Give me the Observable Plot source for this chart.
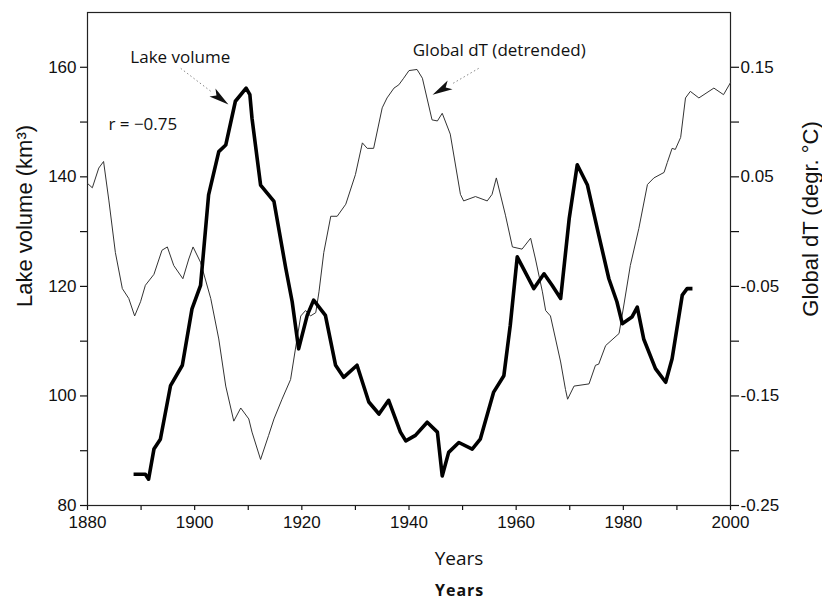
<!DOCTYPE html>
<html>
<head>
<meta charset="utf-8">
<script src="https://cdn.jsdelivr.net/npm/d3@7"></script>
<script src="https://cdn.jsdelivr.net/npm/@observablehq/plot@0.6"></script>
<style>
  body { margin: 0; background: #fff; }
  #caption { font-family: "Open Sans", sans-serif; font-weight: bold; font-size: 16px; letter-spacing: 1px; line-height: 20px; padding-left: 435px; color: #111; }
</style>
</head>
<body>
<div id="chart"></div>
<div id="caption">Years</div>
<script>
// Lake volume (km³) by year
const lakeVolume = [
  [1888.6, 85.7], [1890.8, 85.7], [1891.4, 84.8], [1892.4, 90.3], [1893.6, 92.1],
  [1895.5, 101.9], [1897.7, 105.6], [1899.5, 115.9], [1901.1, 120.2], [1902.6, 136.7],
  [1904.5, 144.6], [1905.8, 145.8], [1907.6, 153.8], [1909.6, 156.2], [1910.3, 155.0],
  [1910.7, 150.7], [1912.3, 138.5], [1914.8, 135.5], [1917.0, 123.3], [1918.2, 117.2],
  [1919.4, 108.6], [1921.0, 114.7], [1922.2, 117.5], [1924.4, 114.7], [1926.3, 105.6],
  [1927.8, 103.4], [1930.3, 105.6], [1932.5, 98.9], [1934.4, 96.7], [1936.2, 99.2],
  [1938.4, 93.4], [1939.4, 91.8], [1941.2, 92.8], [1943.4, 95.2], [1945.3, 93.4],
  [1946.2, 85.4], [1947.4, 89.7], [1949.3, 91.5], [1951.8, 90.3], [1953.3, 92.1],
  [1955.8, 100.7], [1957.7, 103.7], [1958.9, 112.9], [1960.2, 125.4], [1963.3, 119.6],
  [1965.2, 122.3], [1966.7, 120.2], [1968.3, 117.8], [1969.9, 132.4], [1971.4, 142.2],
  [1973.3, 138.5], [1975.4, 129.4], [1977.3, 121.4], [1978.8, 117.2], [1979.8, 113.2],
  [1981.6, 114.4], [1982.6, 116.2], [1983.8, 110.4], [1986.0, 105.0], [1987.9, 102.5],
  [1989.1, 106.8], [1991.0, 118.4], [1991.9, 119.6], [1992.9, 119.6]
];

// Global dT (detrended), °C, by year
const globalDT = [
  [1880.0, 0.044], [1880.9, 0.040], [1882.1, 0.058], [1883.0, 0.064], [1884.0, 0.028],
  [1885.2, -0.019], [1886.5, -0.052], [1887.7, -0.061], [1888.8, -0.077], [1889.9, -0.064],
  [1890.8, -0.049], [1892.4, -0.039], [1893.9, -0.017], [1894.9, -0.014], [1896.1, -0.031],
  [1897.8, -0.043], [1898.9, -0.025], [1899.7, -0.014], [1901.1, -0.028], [1903.0, -0.061],
  [1904.5, -0.098], [1905.8, -0.141], [1907.3, -0.173], [1908.6, -0.161], [1910.1, -0.171],
  [1910.7, -0.183], [1912.3, -0.208], [1913.8, -0.186], [1914.8, -0.171], [1916.3, -0.153],
  [1917.9, -0.135], [1919.1, -0.098], [1919.8, -0.077], [1920.7, -0.072], [1921.6, -0.077],
  [1922.6, -0.074], [1923.2, -0.055], [1924.1, -0.019], [1925.4, 0.014], [1926.6, 0.014],
  [1928.2, 0.025], [1930.0, 0.052], [1931.3, 0.081], [1932.2, 0.076], [1933.4, 0.076],
  [1935.0, 0.113], [1935.9, 0.122], [1937.2, 0.131], [1938.1, 0.134], [1939.0, 0.140],
  [1940.0, 0.147], [1941.5, 0.148], [1942.5, 0.140], [1944.3, 0.102], [1945.3, 0.101],
  [1946.2, 0.108], [1947.7, 0.089], [1949.6, 0.034], [1950.2, 0.028], [1952.4, 0.032],
  [1954.6, 0.028], [1955.5, 0.034], [1956.3, 0.049], [1958.0, 0.015], [1959.3, -0.014],
  [1961.1, -0.016], [1962.7, -0.006], [1963.6, -0.025], [1964.9, -0.055], [1965.5, -0.072],
  [1966.4, -0.077], [1968.3, -0.119], [1969.2, -0.144], [1969.6, -0.153], [1970.8, -0.141],
  [1973.6, -0.139], [1974.8, -0.122], [1975.4, -0.121], [1976.7, -0.104], [1979.2, -0.093],
  [1980.1, -0.067], [1981.3, -0.031], [1982.9, 0.003], [1984.5, 0.043], [1985.7, 0.049],
  [1987.6, 0.054], [1988.2, 0.063], [1989.1, 0.076], [1989.7, 0.075], [1990.7, 0.086],
  [1991.6, 0.122], [1992.5, 0.128], [1994.1, 0.122], [1996.9, 0.131], [1998.7, 0.125],
  [2000.0, 0.136]
];

// Axis ticks
const yearTicks = [1880, 1890, 1900, 1910, 1920, 1930, 1940, 1950, 1960, 1970, 1980, 1990, 2000];
const yearLabels = [1880, 1900, 1920, 1940, 1960, 1980, 2000];
const volumeTicks = [80, 90, 100, 110, 120, 130, 140, 150, 160];
const volumeLabels = [80, 100, 120, 140, 160];
const dtTicks = [-0.25, -0.20, -0.15, -0.10, -0.05, 0.00, 0.05, 0.10, 0.15];
const dtLabels = ["-0.25", "-0.15", "-0.05", "0.05", "0.15"];

// Text
const titles = {
  left: "Lake volume (km³)",
  right: "Global dT (degr. °C)",
  bottom: "Years"
};
const annotations = [
  {label: "Lake volume", year: 1888.0, value: 161.8},
  {label: "r = −0.75", year: 1883.9, value: 149.6},
  {label: "Global dT (detrended)", year: 1940.7, value: 163.1}
];
const pointerShafts = [
  {year1: 1897.4, value1: 159.8, year2: 1903.3, value2: 155.4},
  {year1: 1953.0, value1: 159.8, year2: 1948.1, value2: 157.0}
];
const pointerTips = [
  {year: 1906.3, value: 153.2},
  {year: 1944.4, value: 155.0}
];

// dual axis: dT (°C) expressed on the lake-volume scale
const dtToVolume = (t) => 80 + (t + 0.25) * 200;

const tipAngles = [127, 241];
const arrowHead = {
  draw(ctx) {
    ctx.moveTo(0, 0);
    ctx.lineTo(5, 20);
    ctx.lineTo(0, 15);
    ctx.lineTo(-5, 20);
    ctx.closePath();
  }
};

const chart = Plot.plot({
  width: 822,
  height: 580,
  marginLeft: 87,
  marginRight: 92,
  marginTop: 12,
  marginBottom: 75,
  style: {fontFamily: "'Liberation Sans', Arial, sans-serif", fontSize: "17px", color: "#111", background: "#fff"},
  x: {domain: [1880, 2000], label: null},
  y: {domain: [80, 170], label: null},
  marks: [
    Plot.axisX(yearTicks, {
      tickSize: 5, tickPadding: 5, label: null, strokeWidth: 1.2,
      tickFormat: (d) => yearLabels.includes(d) ? String(d) : ""
    }),
    Plot.axisY(volumeTicks, {
      anchor: "left", tickSize: 7, tickPadding: 4, label: null, strokeWidth: 1.2,
      tickFormat: (d) => volumeLabels.includes(d) ? String(d) : ""
    }),
    Plot.axisY(dtTicks.map(dtToVolume), {
      anchor: "right", tickSize: 8, tickPadding: 2, label: null, strokeWidth: 1.2,
      tickFormat: (d, i) => {
        const s = dtTicks[i].toFixed(2);
        return dtLabels.includes(s) ? s : "";
      }
    }),
    Plot.frame({stroke: "#222", strokeWidth: 1.2}),
    Plot.line(globalDT, {x: (d) => d[0], y: (d) => dtToVolume(d[1]), stroke: "#333", strokeWidth: 1}),
    Plot.line(lakeVolume, {x: (d) => d[0], y: (d) => d[1], stroke: "#000", strokeWidth: 3.6, strokeLinejoin: "round", strokeLinecap: "butt"}),
    Plot.link(pointerShafts, {x1: "year1", y1: "value1", x2: "year2", y2: "value2", stroke: "#888", strokeWidth: 1, strokeDasharray: "1.5 2.5"}),
    Plot.dot(pointerTips, {x: "year", y: "value", symbol: arrowHead, rotate: (d, i) => tipAngles[i], fill: "#111", stroke: "none", r: 5}),
    Plot.text(annotations, {x: "year", y: "value", text: "label", textAnchor: "start", lineAnchor: "middle", fontFamily: "'Open Sans', sans-serif", fontSize: 17, fill: "#111"}),
    Plot.text([titles.left], {frameAnchor: "left", textAnchor: "middle", lineAnchor: "middle", rotate: -90, dx: -63, dy: -43, fontSize: 22, fill: "#111"}),
    Plot.text([titles.right], {frameAnchor: "right", textAnchor: "middle", lineAnchor: "middle", rotate: -90, dx: 80, dy: -40, fontSize: 22, fill: "#111"}),
    Plot.text([titles.bottom], {frameAnchor: "bottom", textAnchor: "middle", dx: 50, dy: 53, lineAnchor: "middle", fontFamily: "'Open Sans', sans-serif", fontSize: 19, fill: "#111"})
  ]
});

document.getElementById("chart").appendChild(chart);
</script>
</body>
</html>
